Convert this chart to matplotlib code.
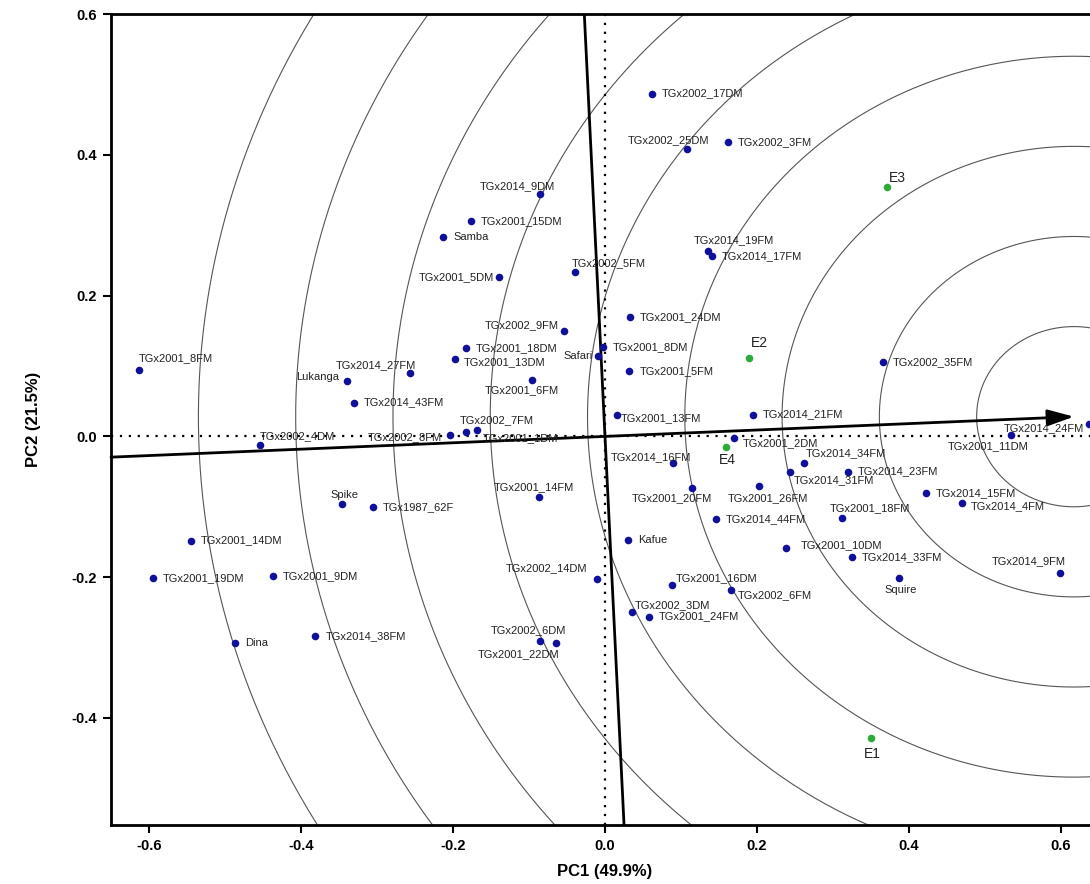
import matplotlib
matplotlib.use("Agg")
import matplotlib.pyplot as plt
import numpy as np

plt.rcParams['font.family'] = ['Liberation Sans', 'DejaVu Sans']

# genotype scores (PC1, PC2)
genotypes = ["TGx2002_17DM", "TGx2002_25DM", "TGx2002_3FM", "TGx2014_9DM", "TGx2001_15DM",
             "Samba", "TGx2001_5DM", "TGx2002_5FM", "TGx2014_19FM", "TGx2014_17FM",
             "TGx2001_24DM", "TGx2002_9FM", "TGx2001_18DM", "TGx2001_13DM", "TGx2001_8DM",
             "Safari", "TGx2001_5FM", "TGx2001_6FM", "TGx2001_8FM", "TGx2014_27FM",
             "Lukanga", "TGx2014_43FM", "TGx2001_13FM", "TGx2014_21FM", "TGx2002_8FM",
             "TGx2002_7FM", "TGx2001_1DM", "TGx2002_4DM", "TGx2001_2DM", "TGx2014_16FM",
             "TGx2014_34FM", "TGx2014_31FM", "TGx2014_23FM", "TGx2001_11DM", "TGx2014_24FM",
             "TGx2014_15FM", "TGx2014_4FM", "TGx2001_18FM", "TGx2001_10DM", "TGx2014_33FM",
             "Squire", "TGx2014_9FM", "TGx2001_20FM", "TGx2001_26FM", "TGx2014_44FM",
             "Kafue", "TGx2001_16DM", "TGx2002_6FM", "TGx2002_3DM", "TGx2001_24FM",
             "TGx2002_14DM", "TGx2002_6DM", "TGx2001_22DM", "TGx2001_14FM", "Spike",
             "TGx1987_62F", "TGx2001_14DM", "TGx2001_19DM", "TGx2001_9DM", "Dina",
             "TGx2014_38FM", "TGx2002_35FM"]
pc1 = [0.062, 0.108, 0.162, -0.086, -0.176,
       -0.213, -0.139, -0.039, 0.136, 0.141,
       0.033, -0.054, -0.183, -0.197, -0.003,
       -0.009, 0.032, -0.096, -0.613, -0.257,
       -0.339, -0.330, 0.016, 0.195, -0.204,
       -0.183, -0.168, -0.454, 0.170, 0.089,
       0.262, 0.243, 0.320, 0.534, 0.637,
       0.422, 0.470, 0.312, 0.238, 0.325,
       0.387, 0.599, 0.114, 0.203, 0.146,
       0.030, 0.088, 0.166, 0.036, 0.058,
       -0.011, -0.086, -0.064, -0.087, -0.346,
       -0.305, -0.545, -0.595, -0.437, -0.487,
       -0.381, 0.366]
pc2 = [0.487, 0.408, 0.418, 0.344, 0.306,
       0.283, 0.226, 0.233, 0.263, 0.256,
       0.170, 0.150, 0.126, 0.110, 0.127,
       0.114, 0.093, 0.080, 0.094, 0.090,
       0.079, 0.048, 0.031, 0.031, 0.002,
       0.006, 0.009, -0.012, -0.002, -0.038,
       -0.038, -0.050, -0.050, 0.002, 0.018,
       -0.080, -0.094, -0.116, -0.158, -0.172,
       -0.201, -0.194, -0.073, -0.070, -0.118,
       -0.147, -0.211, -0.218, -0.250, -0.256,
       -0.202, -0.291, -0.294, -0.086, -0.096,
       -0.101, -0.148, -0.201, -0.198, -0.294,
       -0.284, 0.106]

# environment scores
environments = ["E1", "E2", "E3", "E4"]
env_pc1 = [0.350, 0.189, 0.371, 0.159]
env_pc2 = [-0.429, 0.111, 0.354, -0.015]

# average environment coordinate (arrow tip / circle centre)
aec = (0.617, 0.028)
ring_step = 0.128
n_rings = 9

# label placement (dx px, dy px, ha) - default is right of the dot
R = (10, 0, 'left')
label_pos = {
    "TGx2002_25DM": (-19, 9, 'center'), "TGx2014_9DM": (-22, 8, 'center'),
    "TGx2001_5DM": (-5, 0, 'right'), "TGx2002_5FM": (-4, 9, 'left'),
    "TGx2014_19FM": (-15, 11, 'left'), "TGx2002_9FM": (-5, 6, 'right'),
    "TGx2001_13DM": (8, -3, 'left'), "Safari": (-5, 0, 'right'),
    "TGx2001_6FM": (-10, -10, 'center'), "TGx2001_8FM": (0, 12, 'left'),
    "TGx2014_27FM": (6, 8, 'right'), "Lukanga": (-8, 4, 'right'),
    "TGx2001_13FM": (4, -4, 'left'), "TGx2002_8FM": (-8, -2, 'right'),
    "TGx2002_7FM": (-6, 12, 'left'), "TGx2001_1DM": (5, -8, 'left'),
    "TGx2002_4DM": (0, 9, 'left'), "TGx2001_2DM": (9, -5, 'left'),
    "TGx2014_16FM": (18, 6, 'right'), "TGx2014_34FM": (2, 10, 'left'),
    "TGx2014_31FM": (4, -9, 'left'), "TGx2001_11DM": (18, -11, 'right'),
    "TGx2014_24FM": (-5, -4, 'right'), "TGx2014_4FM": (9, -4, 'left'),
    "TGx2001_18FM": (28, 10, 'center'), "TGx2001_10DM": (15, 3, 'left'),
    "Squire": (2, -12, 'center'), "TGx2014_9FM": (6, 12, 'right'),
    "TGx2001_20FM": (-20, -10, 'center'), "TGx2001_26FM": (9, -12, 'center'),
    "TGx2001_16DM": (4, 7, 'left'), "TGx2002_6FM": (7, -5, 'left'),
    "TGx2002_3DM": (2, 7, 'left'), "TGx2002_14DM": (-9, 10, 'right'),
    "TGx2002_6DM": (-11, 11, 'center'), "TGx2001_22DM": (3, -11, 'right'),
    "TGx2001_14FM": (-5, 10, 'center'), "Spike": (2, 9, 'center'),
}
env_label_pos = {"E1": (1, -16, 'center'), "E2": (2, 15, 'left'),
                 "E3": (2, 9, 'left'), "E4": (2, -13, 'center')}

fig = plt.figure(figsize=(10.9, 8.84), dpi=100)
ax = fig.add_axes([111 / 1090, 59 / 884, 988 / 1090, 811 / 884])
ax.set_xlim(-0.65, 0.65)
ax.set_ylim(-0.552, 0.6)

# concentric rings around the average environment
t = np.linspace(0, 2 * np.pi, 720)
for k in range(1, n_rings + 1):
    r = k * ring_step
    ax.plot(aec[0] + r * np.cos(t), aec[1] + r * np.sin(t), color='#555555', lw=0.8, zorder=1)

# dotted reference axes
ax.axhline(0, color='k', lw=1.6, ls=(0, (1, 3)), zorder=2)
ax.axvline(0, color='k', lw=1.6, ls=(0, (1, 3)), zorder=2)

# average environment axis and its perpendicular
slope = aec[1] / aec[0]
ax.annotate('', xy=aec, xytext=(-0.65, -0.65 * slope),
            arrowprops=dict(arrowstyle='-|>,head_length=0.8,head_width=0.25',
                            lw=2, color='k', mutation_scale=20, shrinkA=0, shrinkB=0),
            zorder=3)
yy = np.array([-0.6, 0.65])
ax.plot(-slope * yy, yy, color='k', lw=2, zorder=3)

ax.scatter(pc1, pc2, s=30, color='#10109a', zorder=4, linewidths=0)
ax.scatter(env_pc1, env_pc2, s=30, color='#2eaa3a', zorder=4, linewidths=0)

for name, x, y in zip(genotypes, pc1, pc2):
    dx, dy, ha = label_pos.get(name, R)
    ax.annotate(name, (x, y), xytext=(dx, dy), textcoords='offset pixels',
                ha=ha, va='center', fontsize=8, color='#222222', zorder=5)
for name, x, y in zip(environments, env_pc1, env_pc2):
    dx, dy, ha = env_label_pos[name]
    ax.annotate(name, (x, y), xytext=(dx, dy), textcoords='offset pixels',
                ha=ha, va='center', fontsize=10, color='#222222', zorder=5)

ax.set_xticks([-0.6, -0.4, -0.2, 0.0, 0.2, 0.4, 0.6])
ax.set_yticks([-0.4, -0.2, 0.0, 0.2, 0.4, 0.6])
ax.set_xticklabels(['-0.6', '-0.4', '-0.2', '0.0', '0.2', '0.4', '0.6'])
ax.set_yticklabels(['-0.4', '-0.2', '0.0', '0.2', '0.4', '0.6'])
ax.tick_params(direction='out', length=6, width=1.5, labelsize=10.5, pad=4)
for lab in ax.get_xticklabels() + ax.get_yticklabels():
    lab.set_fontweight('bold')
for sp in ax.spines.values():
    sp.set_linewidth(2)

ax.set_xlabel('PC1 (49.9%)', fontsize=12, fontweight='bold', labelpad=8)
ax.set_ylabel('PC2 (21.5%)', fontsize=12, fontweight='bold', labelpad=22)

fig.savefig('out.png', dpi=100)
